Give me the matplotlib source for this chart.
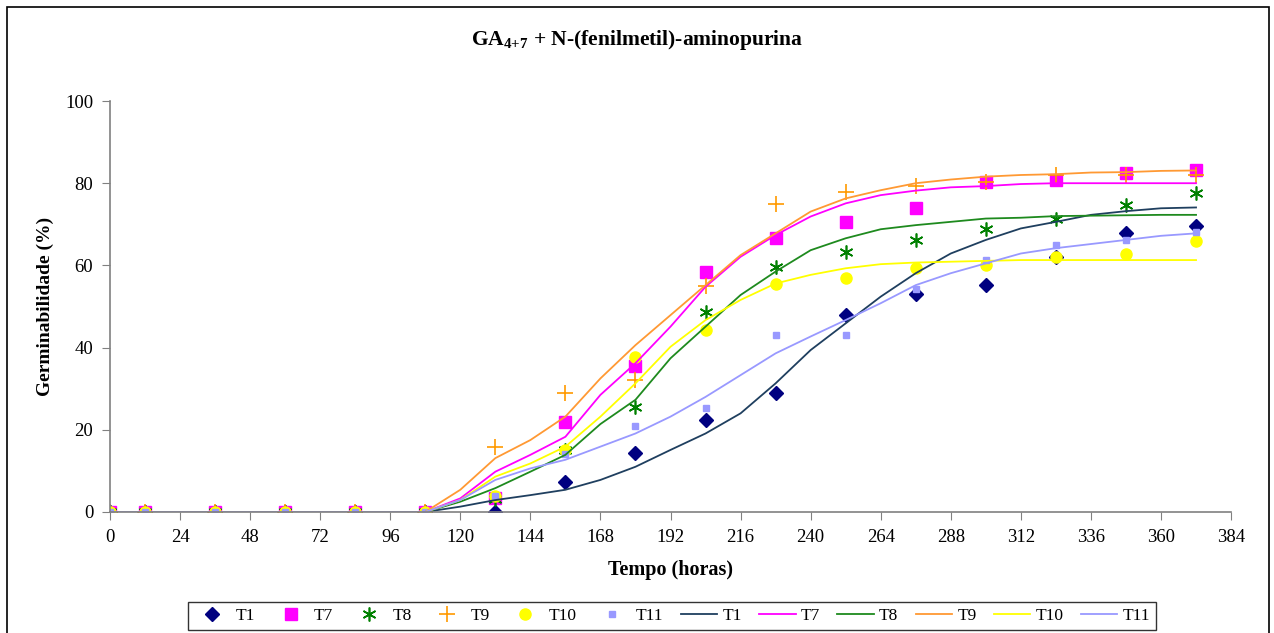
import matplotlib.pyplot as plt
import numpy as np
from matplotlib.patches import Rectangle

# tempos das observacoes (horas)
t_obs = [0, 12, 36, 60, 84, 108, 132, 156, 180, 204, 228, 252, 276, 300, 324, 348, 372]

# germinabilidade observada (%)
T1_obs = [0, 0, 0, 0, 0, 0, 0, 7.3, 14.4, 22.4, 29, 48, 53, 55.2, 62, 68, 69.6]
T7_obs = [0, 0, 0, 0, 0, 0, 3.5, 21.8, 35.4, 58.5, 66.6, 70.5, 74, 80.2, 80.9, 82.5, 83.3]
T8_obs = [0, 0, 0, 0, 0, 0, 3.2, 15, 25.5, 48.6, 59.7, 63.3, 66.3, 68.8, 71.2, 74.6, 77.6]
T9_obs = [0, 0, 0, 0, 0, 0, 15.9, 28.9, 32.1, 55.1, 74.9, 77.9, 79.3, 80.3, 81.9, 82, 82]
T10_obs = [0, 0, 0, 0, 0, 0, 3.8, 15.1, 37.6, 44.2, 55.5, 56.9, 59.3, 60, 62, 62.8, 65.9]
T11_obs = [0, 0, 0, 0, 0, 0, 3.9, 14, 20.9, 25.2, 43, 43, 54.3, 61.3, 65, 66.3, 68.2]

# curvas ajustadas, de 12 em 12 horas
t_fit = [0, 12, 24, 36, 48, 60, 72, 84, 96, 108, 120, 132, 144, 156, 168, 180,
         192, 204, 216, 228, 240, 252, 264, 276, 288, 300, 312, 324, 336, 348, 360, 372]
T1_fit = [0, 0, 0, 0, 0, 0, 0, 0, -0.2, 0, 1.3, 2.9, 4.1, 5.4, 7.8, 11, 15.1, 19.1,
          24, 31.3, 39.4, 45.9, 52.4, 58.1, 62.9, 66.2, 69, 70.6, 72.3, 73.2, 73.9, 74.1]
T7_fit = [0, 0, 0, 0, 0, 0, 0, 0, -0.5, 0, 3.3, 9.8, 13.9, 18.3, 28.5, 36.2, 45.1, 54.8,
          62.1, 67.4, 71.9, 75.1, 77.1, 78.2, 79, 79.3, 79.8, 80, 80, 80, 80, 80]
T8_fit = [0, 0, 0, 0, 0, 0, 0, 0, -0.3, 0, 2.5, 5.8, 9.8, 13.9, 21.4, 27.3, 37.4, 45.1,
          52.8, 58.5, 63.7, 66.6, 68.8, 69.8, 70.6, 71.4, 71.6, 72, 72.1, 72.2, 72.3, 72.3]
T9_fit = [0, 0, 0, 0, 0, 0, 0, 0, -0.8, 0, 5.4, 13.1, 17.5, 23.2, 32.5, 40.6, 47.9, 55.2,
          62.5, 67.8, 73.1, 76.3, 78.3, 80, 80.9, 81.6, 82, 82.2, 82.6, 82.7, 83, 83.1]
T10_fit = [0, 0, 0, 0, 0, 0, 0, 0, 0, 0, 2.9, 8.6, 11.8, 15.9, 23.2, 31.3, 40.2, 46.7,
           51.6, 55.6, 57.7, 59.3, 60.3, 60.7, 60.9, 61.1, 61.3, 61.3, 61.3, 61.3, 61.3, 61.3]
T11_fit = [0, 0, 0, 0, 0, 0, 0, 0, 0, 0, 2.9, 7.8, 10.6, 12.7, 15.9, 19.1, 23.2, 28,
           33.3, 38.6, 42.7, 46.7, 50.8, 55.2, 58.1, 60.5, 62.9, 64.2, 65.2, 66.2, 67.2, 67.8]

plt.rcParams['font.family'] = ['Liberation Serif', 'DejaVu Serif']
plt.rcParams['mathtext.fontset'] = 'custom'
plt.rcParams['mathtext.rm'] = 'Liberation Serif'
plt.rcParams['mathtext.bf'] = 'Liberation Serif:bold'

fig = plt.figure(figsize=(12.74, 6.33), dpi=100)
ax = fig.add_axes([0.0863, 0.1912, 0.8800, 0.6492])

# pontos observados
ax.plot(t_obs, T1_obs, ls='none', marker='D', ms=7, color='#000080', label='T1')
ax.plot(t_obs, T7_obs, ls='none', marker='s', ms=8, color='#FF00FF', label='T7')
ax.plot(t_obs, T8_obs, ls='none', marker=(6, 2, 0), ms=10, mew=1.2, color='#008000', label='T8')
ax.plot(t_obs, T9_obs, ls='none', marker='+', ms=11, mew=1.2, color='#FF9900', label='T9')
ax.plot(t_obs, T10_obs, ls='none', marker='o', ms=8, color='#FFFF00', label='T10')
ax.plot(t_obs, T11_obs, ls='none', marker='s', ms=5, color='#9999FF', label='T11')

# curvas ajustadas
ax.plot(t_fit, T1_fit, color='#1F3F5F', lw=1.3, label='T1')
ax.plot(t_fit, T7_fit, color='#FF00FF', lw=1.3, label='T7')
ax.plot(t_fit, T8_fit, color='#1E8A1E', lw=1.3, label='T8')
ax.plot(t_fit, T9_fit, color='#FF9933', lw=1.3, label='T9')
ax.plot(t_fit, T10_fit, color='#FFFF00', lw=1.3, label='T10')
ax.plot(t_fit, T11_fit, color='#9999FF', lw=1.3, label='T11')

ax.set_xlim(0, 384)
ax.set_ylim(0, 100)
ax.set_xticks(np.arange(0, 385, 24))
ax.set_yticks(np.arange(0, 101, 20))
for s in ['top', 'right']:
    ax.spines[s].set_visible(False)
for s in ['left', 'bottom']:
    ax.spines[s].set_color('#808080')
    ax.spines[s].set_linewidth(1.2)
ax.tick_params(direction='out', length=6, color='#808080', labelsize=13.5, pad=6)
for lab in ax.get_xticklabels() + ax.get_yticklabels():
    lab.set_clip_on(False)

ax.set_xlabel("Tempo (horas)", fontsize=14.5, fontweight='bold', labelpad=10)
ax.set_ylabel("Germinabilidade (%)", fontsize=14, fontweight='bold', labelpad=8)
fig.text(0.5, 0.937, r"GA$_{\mathbf{4{+}7}}$ + N-(fenilmetil)-aminopurina",
         ha='center', va='center', fontsize=15.5, fontweight='bold')

leg = fig.legend(loc='center', bbox_to_anchor=(0.5275, 0.027), ncol=12, fontsize=12.5,
                 frameon=True, fancybox=False, edgecolor='black', handlelength=2.1,
                 handletextpad=0.3, columnspacing=1.0, borderpad=0.35)
leg.get_frame().set_linewidth(1.0)

# moldura exterior
fig.patches.append(Rectangle((7 / 1274, -0.05), (1269 - 7) / 1274, 1 - 7 / 633 + 0.05,
                             transform=fig.transFigure, fill=False, edgecolor='black', lw=1.2))

fig.savefig("out.png", dpi=100)
